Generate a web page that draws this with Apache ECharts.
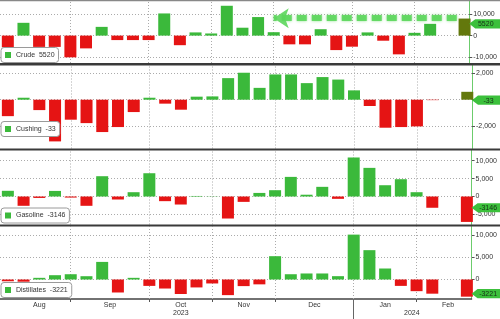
<!DOCTYPE html>
<html><head><meta charset="utf-8">
<script src="https://cdn.jsdelivr.net/npm/echarts@6/dist/echarts.min.js"></script>
<style>html,body{margin:0;padding:0;background:#fff}#c{width:500px;height:319px}</style>
</head><body><div id="c"></div>
<script>
// ---- data (weekly changes, thousand barrels) ----
const panelNames = ['Crude', 'Cushing', 'Gasoline', 'Distillates'];
const crude = [-5500, 6000, -5300, -5300, -10200, -6000, 4100, -2100, -2100, -2100, 10400, -4500, 1500, 1000, 14000, 3700, 8700, 1600, -4100, -4100, 3000, -6800, -5200, 1500, -2400, -8800, 1300, 5520];
const cushing = [-1250, 150, -790, -3170, -1520, -1780, -2460, -2080, -940, 150, -300, -760, 230, 250, 1640, 2050, 900, 1920, 1920, 1260, 1720, 1530, 710, -480, -2130, -2080, -2030, -33];
const gasoline = [1590, -2600, -400, 1560, -300, -2600, 5670, -840, 1200, 6500, -1300, -2240, 150, 60, -6150, -1500, 1000, 1760, 5480, 500, 2700, -650, 10900, 8000, 3150, 4830, 1200, -3146];
const distillates = [-400, -500, 380, 980, 1200, 750, 4000, -2950, 380, -1450, -2050, -3300, -1800, -900, -3550, -1500, -1100, 5300, 1200, 1370, 1370, 760, 10200, 6670, 2500, -1450, -2650, -3221];
const extraBars = [8000, 600, -7100, -3900];      // right-edge bar in each panel
const extraPos = 29.2;
const lastValues = [5520, -33, -3146, -3221];
const monthStarts = [4, 9, 13, 17, 22, 26];
const monthLabelPos = [2, 6.5, 11, 15, 19.5, 24, 28];
const monthNames = ['Aug', 'Sep', 'Oct', 'Nov', 'Dec', 'Jan', 'Feb'];
const yearStart = [22];
const yearLabelPos = [11, 25.7];
const yearNames = ['2023', '2024'];
const yTicks = [[-10000, 0, 10000], [-2000, 0, 2000], [-5000, 0, 5000, 10000], [0, 5000, 10000]];
const yMin = [-12860, -3710, -7820, -4430];
const yMax = [16240, 2600, 12850, 12045];
const arrowSpan = [28.7, 17.0];
const arrowLevel = 8200;

// ---- styling ----
const FONT = 'Liberation Sans, Arial, sans-serif';
const GREEN = '#3bb93b', RED = '#e51414', OLIVE = '#63780c';
const extraColors = [OLIVE, OLIVE, RED, RED];
const gridTops = [1, 65.5, 150.5, 226.5];
const gridBottoms = [63, 148.5, 224.5, 299];
const legendTops = [47.5, 121.5, 208, 282.5];
const series4 = [crude, cushing, gasoline, distillates];
const dotted = { color: '#ababab', width: 1, type: [1, 2] };

const chart = echarts.init(document.getElementById('c'), null, { renderer: 'canvas' });

const grids = gridTops.map((t, k) => ({ left: -10.4, width: 482.4, top: t, height: gridBottoms[k] - t }));

const xAxes = panelNames.map((n, k) => ({
  gridIndex: k, type: 'value', min: -0.5, max: 29.5, position: 'bottom',
  axisLine: { show: k === 3, onZero: false, lineStyle: { color: '#444', width: 1.5 } },
  axisTick: { show: k === 3, customValues: monthStarts, length: 3, lineStyle: { color: '#555' } },
  axisLabel: k === 3 ? {
    show: true, customValues: monthLabelPos, fontSize: 7, color: '#333', margin: 3, fontFamily: FONT,
    formatter: v => monthNames[monthLabelPos.findIndex(p => Math.abs(p - v) < 1e-6)] || ''
  } : { show: false },
  splitLine: { show: false }
}));
xAxes.push({
  gridIndex: 3, type: 'value', min: -0.5, max: 29.5, position: 'bottom',
  axisLine: { show: false, onZero: false },
  axisTick: { show: true, customValues: yearStart, length: 20, lineStyle: { color: '#666' } },
  axisLabel: {
    show: true, customValues: yearLabelPos, fontSize: 7, color: '#333', margin: 11, fontFamily: FONT,
    formatter: v => yearNames[yearLabelPos.findIndex(p => Math.abs(p - v) < 1e-6)] || ''
  },
  splitLine: { show: false }
});

const yAxes = panelNames.map((n, k) => ({
  gridIndex: k, type: 'value', position: 'right', min: yMin[k], max: yMax[k],
  axisLine: { show: true, onZero: false, lineStyle: { color: '#6ccc6c', width: 1 } },
  axisTick: { show: true, customValues: yTicks[k], length: 3, lineStyle: { color: '#555' } },
  axisLabel: { customValues: yTicks[k], fontSize: 7, color: '#333', margin: 4, fontFamily: FONT },
  splitLine: { show: false }
}));

const series = [];
panelNames.forEach((n, k) => {
  // dotted reference grid (month starts and value ticks), drawn beneath the bars
  series.push({
    name: n + '_grid', type: 'line', xAxisIndex: k, yAxisIndex: k, data: [], silent: true, z: 0,
    markLine: {
      z: 1, silent: true, animation: false, symbol: ['none', 'none'], label: { show: false },
      lineStyle: dotted,
      data: monthStarts.map(m => ({ xAxis: m })).concat(yTicks[k].map(t => ({ yAxis: t })))
    }
  });
  const s = {
    name: n, type: 'bar', xAxisIndex: k, yAxisIndex: k, barWidth: 12, barGap: '-100%', z: 2,
    itemStyle: { color: GREEN },
    data: series4[k].map((v, i) => ({ value: [i, v], itemStyle: { color: v >= 0 ? GREEN : RED } }))
  };
  if (k === 0) {
    s.markLine = {
      z: 5, silent: true, animation: false, symbol: ['none', 'arrow'], symbolSize: 15,
      label: { show: false },
      lineStyle: { color: '#5cd65c', width: 6, type: [10, 5], opacity: 0.9, shadowBlur: 3, shadowColor: 'rgba(80,210,80,0.7)' },
      data: [[{ coord: [arrowSpan[0], arrowLevel] }, { coord: [arrowSpan[1], arrowLevel] }]]
    };
  }
  series.push(s);
  series.push({
    name: n + '_extra', type: 'bar', xAxisIndex: k, yAxisIndex: k, barWidth: 12, barGap: '-100%', z: 2,
    data: [{ value: [extraPos, extraBars[k]], itemStyle: { color: extraColors[k] } }]
  });
});

const legends = panelNames.map((n, k) => ({
  data: [n], left: 1, top: legendTops[k], icon: 'rect', itemWidth: 6, itemHeight: 6, itemGap: 0, z: 10,
  padding: [4, 4, 4, 4], borderColor: '#9a9a9a', borderWidth: 1, borderRadius: 3, backgroundColor: '#fff',
  selectedMode: false, textStyle: { fontSize: 7, color: '#333', fontFamily: FONT },
  formatter: name => name + '  ' + lastValues[k]
}));

chart.setOption({
  animation: false,
  backgroundColor: '#fff',
  textStyle: { fontFamily: FONT },
  grid: grids, xAxis: xAxes, yAxis: yAxes, legend: legends, series: series
});

// ---- overlays: separators and last-value flags ----
const graphics = [];
graphics.push({ type: 'rect', shape: { x: 0, y: 0, width: 500, height: 1.2 }, style: { fill: '#888' }, z: 50 });
for (let k = 0; k < 3; k++) {
  graphics.push({ type: 'rect', shape: { x: 0, y: gridBottoms[k], width: 500, height: gridTops[k + 1] - gridBottoms[k] }, style: { fill: '#3a3a3a' }, z: 50 });
}
lastValues.forEach((v, k) => {
  const p = chart.convertToPixel({ gridIndex: k }, [27, v]);
  const ax = chart.convertToPixel({ gridIndex: k }, [29.5, v])[0];
  const y = p[1];
  graphics.push({ type: 'polygon', shape: { points: [[ax, y], [ax + 6, y - 4.6], [500, y - 4.6], [500, y + 4.6], [ax + 6, y + 4.6]] }, style: { fill: '#3cc03c' }, z: 60 });
  graphics.push({ type: 'text', x: ax + 16.5, y: y + 0.5, style: { text: String(v), fontSize: 7, fill: '#163016', align: 'center', verticalAlign: 'middle', fontFamily: FONT }, z: 61 });
});
chart.setOption({ graphic: graphics });
</script></body></html>
